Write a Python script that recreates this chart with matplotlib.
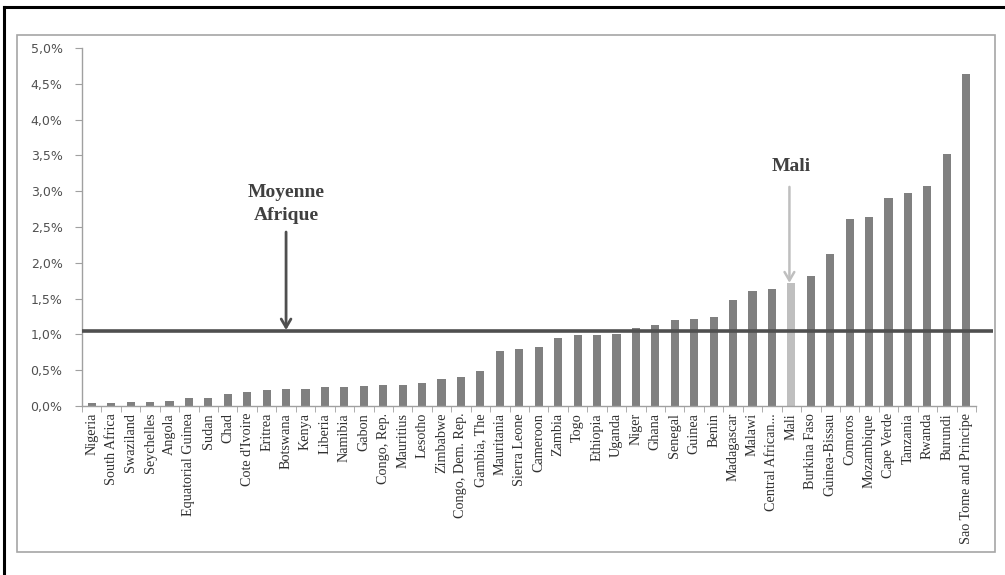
import matplotlib
matplotlib.use('Agg')
import matplotlib.pyplot as plt
import numpy as np
from matplotlib.patches import Rectangle
from matplotlib.lines import Line2D

# Countries, sorted by share
countries = ["Nigeria", "South Africa", "Swaziland", "Seychelles", "Angola",
             "Equatorial Guinea", "Sudan", "Chad", "Cote d'Ivoire", "Eritrea",
             "Botswana", "Kenya", "Liberia", "Namibia", "Gabon", "Congo, Rep.",
             "Mauritius", "Lesotho", "Zimbabwe", "Congo, Dem. Rep.", "Gambia, The",
             "Mauritania", "Sierra Leone", "Cameroon", "Zambia", "Togo", "Ethiopia",
             "Uganda", "Niger", "Ghana", "Senegal", "Guinea", "Benin", "Madagascar",
             "Malawi", "Central African...", "Mali", "Burkina Faso", "Guinea-Bissau",
             "Comoros", "Mozambique", "Cape Verde", "Tanzania", "Rwanda", "Burundi",
             "Sao Tome and Principe"]
values = [0.04, 0.04, 0.05, 0.06, 0.07,
          0.11, 0.11, 0.17, 0.19, 0.23,
          0.24, 0.24, 0.26, 0.27, 0.28, 0.29,
          0.30, 0.32, 0.38, 0.41, 0.49,
          0.77, 0.80, 0.83, 0.95, 0.99, 0.99,
          1.00, 1.09, 1.13, 1.20, 1.21, 1.24, 1.48,
          1.61, 1.64, 1.72, 1.81, 2.12,
          2.61, 2.64, 2.91, 2.98, 3.07, 3.52,
          4.63]
africa_mean = 1.05
highlight = "Mali"
yticks = [0.0, 0.5, 1.0, 1.5, 2.0, 2.5, 3.0, 3.5, 4.0, 4.5, 5.0]

fig = plt.figure(figsize=(10.05, 5.75), dpi=100)

# outer frame (top and left edges) and inner chart border
fig.add_artist(Line2D([0.004, 1.0], [0.987, 0.987], color='black', lw=2.2,
                      transform=fig.transFigure))
fig.add_artist(Line2D([0.004, 0.004], [0.0, 0.987], color='black', lw=2.2,
                      transform=fig.transFigure))
fig.add_artist(Rectangle((17 / 1005, 1 - 552 / 575), (995 - 17) / 1005,
                         (552 - 35) / 575, fill=False, ec='#a6a6a6', lw=1.2,
                         transform=fig.transFigure))

ax = fig.add_axes([82 / 1005, 1 - 406 / 575, (976 - 82) / 1005, (406 - 48) / 575])

x = np.arange(len(countries))
colors = ['#bfbfbf' if c == highlight else '#808080' for c in countries]
ax.bar(x, values, width=0.42, color=colors, zorder=2)

ax.set_xlim(-0.5, len(countries) - 0.5)
ax.set_ylim(0, 5)

for s in ['top', 'right']:
    ax.spines[s].set_visible(False)
for s in ['left', 'bottom']:
    ax.spines[s].set_color('#a0a0a0')
    ax.spines[s].set_linewidth(1.0)

ax.set_yticks(yticks)
ax.set_yticklabels([f"{v:.1f}%".replace('.', ',') for v in yticks],
                   fontsize=9, color='#505050')
ax.tick_params(axis='y', length=5, color='#a0a0a0', pad=9)

ax.set_xticks(x)
ax.set_xticklabels(countries, rotation=90, fontsize=10.2,
                   family='Liberation Serif', color='#303030')
ax.set_xticks(np.arange(-0.5, len(countries)), minor=True)
ax.tick_params(axis='x', which='major', length=0, pad=5)
ax.tick_params(axis='x', which='minor', length=4, color='#a0a0a0')

# continental average line, running past the last bar
ax.hlines(africa_mean, -0.5, len(countries) + 0.4, color='#4f4f4f', lw=2.6,
          clip_on=False, zorder=3)

# annotations
ia = countries.index("Botswana")
ax.annotate("", xy=(ia, africa_mean + 0.01), xytext=(ia, 2.43),
            arrowprops=dict(arrowstyle='->,head_length=0.6,head_width=0.35',
                            color='#4f4f4f', lw=2.0, shrinkA=0, shrinkB=0))
ax.text(ia, 2.82, "Moyenne\nAfrique", ha='center', va='center', fontsize=14,
        fontweight='bold', family='Liberation Serif', color='#404040',
        linespacing=1.4)

im = countries.index(highlight)
ax.annotate("", xy=(im - 0.1, values[im]), xytext=(im - 0.1, 3.06),
            arrowprops=dict(arrowstyle='->,head_length=0.6,head_width=0.35',
                            color='#bfbfbf', lw=1.8, shrinkA=0, shrinkB=0))
ax.text(im, 3.34, "Mali", ha='center', va='center', fontsize=14,
        fontweight='bold', family='Liberation Serif', color='#404040')

fig.savefig('out.png', dpi=100)
